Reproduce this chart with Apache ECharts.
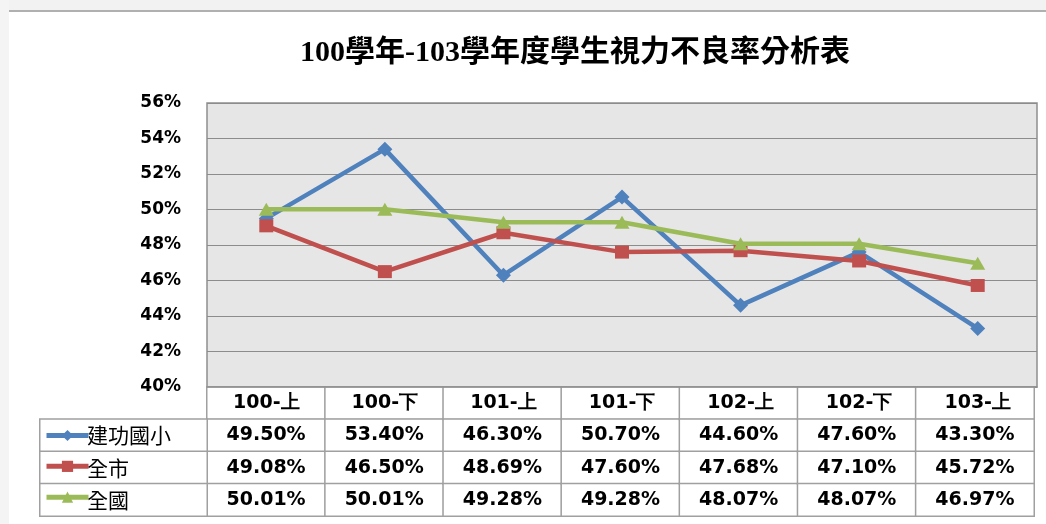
<!DOCTYPE html>
<html>
<head>
<meta charset="utf-8">
<script src="https://cdn.jsdelivr.net/npm/echarts@6/dist/echarts.min.js"></script>
<style>
html,body{margin:0;padding:0;background:#fff;}
#c{width:1046px;height:524px;}
</style>
</head>
<body>
<div id="c"></div>
<script>
const title = '100學年-103學年度學生視力不良率分析表';
const categories = ['100-上','100-下','101-上','101-下','102-上','102-下','103-上'];
const seriesNames = ['建功國小','全市','全國'];
const school = [49.50, 53.40, 46.30, 50.70, 44.60, 47.60, 43.30];
const city = [49.08, 46.50, 48.69, 47.60, 47.68, 47.10, 45.72];
const nation = [50.01, 50.01, 49.28, 49.28, 48.07, 48.07, 46.97];
const yTicks = {min: 40, max: 56, interval: 2};

const colors = ['#4F81BD', '#C0504D', '#9BBB59'];
const symbols = ['diamond', 'rect', 'triangle'];
const symbolSizes = [[15, 15], [14, 13], [15, 13]];
const allValues = [school, city, nation];

const tableRows = ['', ...seriesNames];
const tableData = [];
categories.forEach((c, i) => {
  tableData.push([i, 0, 0]);
  allValues.forEach((vals, s) => tableData.push([i, s + 1, vals[i]]));
});
const leftData = seriesNames.map((n, s) => [0, s, 0]);

const numFont = 'DejaVu Sans';
const chart = echarts.init(document.getElementById('c'), null, {renderer: 'canvas'});

const lineSeries = allValues.map((vals, s) => ({
  name: seriesNames[s],
  type: 'line',
  xAxisIndex: 0,
  yAxisIndex: 0,
  data: vals,
  symbol: symbols[s],
  symbolSize: symbolSizes[s],
  showAllSymbol: true,
  lineStyle: {color: colors[s], width: 4.5},
  itemStyle: {color: colors[s]},
  emphasis: {disabled: true},
  animation: false,
  z: 3 + s
}));

chart.setOption({
  animation: false,
  backgroundColor: '#ffffff',
  title: {
    text: title,
    left: 570,
    textAlign: 'center',
    top: 33,
    textStyle: {fontFamily: 'Liberation Serif, "Noto Sans CJK TC"', fontSize: 30, fontWeight: 'bold', color: '#000'}
  },
  graphic: [
    {type: 'rect', shape: {x: 0, y: 0, width: 1046, height: 10}, style: {fill: '#f2f2f2'}, silent: true},
    {type: 'rect', shape: {x: 0, y: 0, width: 9, height: 524}, style: {fill: '#f4f4f4'}, silent: true},
    {type: 'rect', shape: {x: 9, y: 10, width: 1037, height: 2}, style: {fill: '#b0b0b0'}, silent: true}
  ],
  legend: {
    orient: 'vertical',
    left: 44,
    top: 428.5,
    padding: 0,
    itemGap: 18.25,
    itemWidth: 42,
    itemHeight: 14,
    selectedMode: false,
    data: seriesNames,
    formatter: () => '',
    lineStyle: {width: 5},
    textStyle: {fontSize: 14, padding: 0},
    z: 10
  },
  grid: [
    {left: 207, right: 9, top: 103, bottom: 137, show: true, backgroundColor: '#e6e6e6', borderColor: '#8f8f8f', borderWidth: 1.5},
    {left: 207, right: 12, top: 387, height: 129, show: false},
    {left: 40, width: 167, top: 419.25, height: 96.75, show: false}
  ],
  xAxis: [
    {
      type: 'category', gridIndex: 0, data: categories, boundaryGap: true, z: 10,
      axisLine: {show: true, lineStyle: {color: '#8f8f8f', width: 1.5}},
      axisTick: {show: false},
      axisLabel: {margin: 7, fontFamily: numFont, fontWeight: 'bold', fontSize: 19, color: '#000'},
      splitLine: {show: false}
    },
    {
      type: 'category', gridIndex: 1, data: categories, show: false
    },
    {
      type: 'category', gridIndex: 2, data: [''], show: false
    }
  ],
  yAxis: [
    {
      type: 'value', gridIndex: 0, min: yTicks.min, max: yTicks.max, interval: yTicks.interval,
      axisLine: {show: false}, axisTick: {show: false},
      axisLabel: {margin: 26, fontFamily: numFont, fontWeight: 'bold', fontSize: 17, color: '#000', formatter: v => v + '%'},
      splitLine: {show: true, lineStyle: {color: '#8c8c8c', width: 1}}
    },
    {
      type: 'category', gridIndex: 1, data: tableRows, inverse: true, show: false
    },
    {
      type: 'category', gridIndex: 2, data: seriesNames, inverse: true, show: false
    }
  ],
  series: [
    {
      type: 'heatmap',
      xAxisIndex: 1, yAxisIndex: 1,
      data: tableData,
      itemStyle: {color: '#ffffff', borderColor: '#a0a0a0', borderWidth: 1.5},
      emphasis: {disabled: true},
      label: {
        show: true,
        fontFamily: numFont, fontWeight: 'bold', fontSize: 19, color: '#000',
        formatter: p => p.value[1] === 0 ? '' : p.value[2].toFixed(2) + '%'
      },
      z: 1
    },
    {
      type: 'heatmap',
      xAxisIndex: 2, yAxisIndex: 2,
      data: leftData,
      itemStyle: {color: '#ffffff', borderColor: '#a0a0a0', borderWidth: 1.5},
      emphasis: {disabled: true},
      label: {
        show: true,
        position: 'insideLeft',
        distance: 48,
        fontFamily: '"Noto Sans CJK TC"', fontSize: 21, color: '#000',
        formatter: p => seriesNames[p.value[1]]
      },
      z: 1
    },
    ...lineSeries
  ]
});
</script>
</body>
</html>
